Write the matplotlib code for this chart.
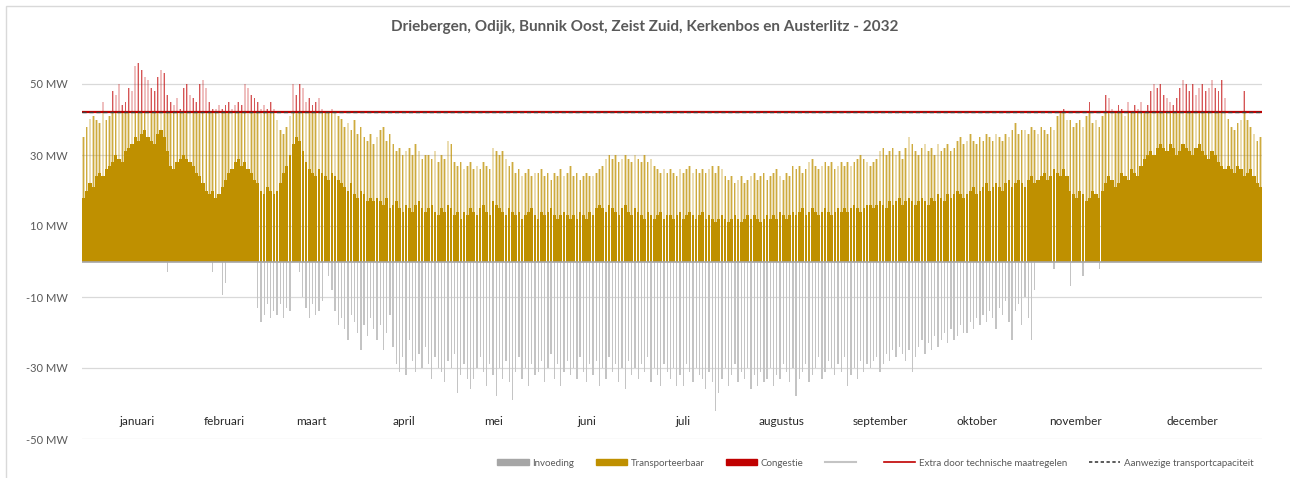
import numpy as np
import matplotlib
matplotlib.use("Agg")
import matplotlib.pyplot as plt
from matplotlib.patches import Patch, Rectangle
from matplotlib.lines import Line2D

plt.rcParams['font.family'] = ['Lato', 'DejaVu Sans']

# daily values (MW), year 2032 (leap year)
months = ['januari', 'februari', 'maart', 'april', 'mei', 'juni', 'juli',
          'augustus', 'september', 'oktober', 'november', 'december']
month_label_day = [17, 44, 71, 100, 127.5, 156.5, 186.5, 217, 247.5, 277.5, 308, 344.5]

# daily peak load
peak_jan = [35, 38, 40, 41, 40, 39, 45, 40, 41, 48, 47, 50, 44, 45, 49, 48, 55, 56, 54, 52, 51, 49, 48, 52, 54, 53, 47, 45, 44, 46, 43]
peak_feb = [49, 50, 47, 46, 45, 50, 51, 49, 45, 43, 43, 44, 43, 44, 45, 43, 44, 45, 44, 50, 49, 47, 46, 45, 43, 44, 43, 45, 43]
peak_mar = [40, 37, 36, 38, 41, 50, 47, 50, 49, 45, 46, 44, 45, 46, 43, 42, 42, 43, 42, 41, 40, 38, 39, 37, 40, 36, 38, 35, 34, 36, 33]
peak_apr = [35, 37, 38, 34, 36, 33, 31, 32, 30, 31, 32, 30, 33, 31, 29, 30, 30, 29, 31, 28, 30, 29, 34, 33, 28, 27, 28, 26, 27, 28]
peak_may = [26, 27, 26, 28, 27, 26, 32, 31, 30, 31, 29, 27, 28, 25, 26, 24, 25, 26, 24, 25, 25, 26, 24, 25, 23, 25, 24, 26, 24, 25, 27]
peak_jun = [24, 25, 23, 24, 25, 24, 24, 25, 26, 27, 29, 30, 29, 30, 28, 29, 30, 29, 28, 30, 29, 28, 30, 28, 29, 27, 26, 25, 26, 25]
peak_jul = [26, 25, 24, 26, 25, 26, 27, 25, 26, 25, 26, 25, 26, 27, 25, 27, 26, 24, 23, 24, 22, 23, 24, 22, 23, 24, 25, 23, 24, 25, 23]
peak_aug = [24, 25, 26, 24, 23, 25, 24, 27, 26, 27, 25, 26, 28, 29, 27, 26, 27, 28, 27, 28, 26, 27, 28, 27, 28, 27, 28, 29, 30, 29, 28]
peak_sep = [27, 28, 29, 31, 32, 30, 31, 32, 30, 31, 29, 32, 35, 33, 31, 30, 32, 33, 31, 32, 30, 33, 31, 32, 33, 31, 32, 34, 35, 33]
peak_oct = [34, 36, 34, 33, 35, 34, 36, 35, 34, 36, 35, 34, 36, 35, 37, 39, 36, 37, 37, 36, 38, 37, 36, 38, 37, 36, 38, 37, 41, 42, 43]
peak_nov = [40, 40, 38, 39, 40, 38, 41, 45, 39, 40, 38, 41, 47, 46, 43, 42, 44, 43, 41, 45, 42, 44, 43, 45, 42, 44, 48, 50, 49, 50]
peak_dec = [47, 46, 45, 44, 46, 49, 51, 50, 48, 50, 47, 49, 50, 48, 49, 51, 49, 48, 51, 46, 40, 38, 37, 39, 40, 48, 40, 38, 36, 34, 35]

# daily bulk (dark part of the fill)
base_jan = [18, 20, 22, 21, 24, 25, 24, 26, 27, 28, 30, 29, 28, 31, 32, 33, 35, 34, 36, 37, 35, 34, 33, 36, 37, 35, 31, 27, 26, 28, 29]
base_feb = [30, 29, 28, 27, 25, 24, 22, 20, 19, 20, 18, 19, 21, 23, 25, 26, 28, 29, 27, 28, 26, 25, 23, 22, 20, 19, 21, 20, 19]
base_mar = [20, 22, 25, 27, 30, 33, 35, 34, 31, 28, 26, 25, 24, 26, 25, 24, 23, 25, 24, 23, 22, 21, 20, 22, 19, 18, 20, 19, 17, 18, 17]
base_apr = [18, 17, 16, 18, 15, 16, 17, 15, 14, 16, 15, 14, 16, 17, 15, 14, 15, 16, 14, 13, 15, 14, 16, 15, 13, 14, 12, 14, 13, 15]
base_may = [14, 13, 15, 16, 14, 13, 17, 16, 15, 14, 13, 15, 14, 13, 14, 12, 13, 14, 15, 13, 12, 14, 13, 14, 15, 13, 12, 13, 14, 13, 12]
base_jun = [13, 12, 14, 13, 12, 14, 13, 15, 16, 15, 14, 16, 15, 14, 13, 15, 16, 14, 13, 15, 14, 13, 12, 14, 13, 12, 13, 14, 12, 13]
base_jul = [13, 12, 13, 14, 12, 13, 14, 13, 12, 13, 14, 12, 13, 12, 11, 12, 13, 12, 11, 12, 13, 12, 11, 12, 13, 12, 13, 12, 11, 12, 13]
base_aug = [12, 13, 12, 14, 13, 12, 13, 14, 13, 14, 15, 13, 14, 15, 14, 13, 14, 15, 14, 13, 14, 15, 14, 15, 14, 15, 16, 15, 14, 15, 16]
base_sep = [16, 15, 16, 17, 16, 15, 17, 16, 17, 18, 16, 17, 18, 17, 16, 17, 18, 17, 16, 18, 17, 19, 18, 17, 19, 18, 19, 20, 19, 18]
base_oct = [19, 20, 21, 19, 20, 21, 22, 20, 21, 22, 21, 20, 22, 23, 21, 22, 23, 22, 21, 23, 24, 22, 23, 24, 25, 23, 24, 26, 25, 24, 26]
base_nov = [24, 20, 19, 18, 20, 19, 17, 18, 20, 19, 18, 20, 22, 24, 23, 21, 22, 25, 24, 23, 26, 25, 24, 27, 29, 30, 31, 30, 32, 33]
base_dec = [32, 31, 33, 32, 30, 31, 33, 32, 31, 30, 32, 33, 31, 30, 29, 31, 30, 28, 27, 26, 27, 26, 25, 27, 26, 24, 25, 26, 24, 22, 21]

# daily deepest feed-in (invoeding)
neg_jan = [0, 0, 0, 0, 0, 0, 0, 0, 0, 0, 0, 0, 0, 0, 0, 0, 0, 0, 0, 0, 0, 0, 0, 0, 0, 0, -3, 0, 0, 0, 0]
neg_feb = [0, 0, 0, 0, 0, 0, 0, 0, 0, -3, 0, 0, -9.5, -6, 0, 0, 0, 0, 0, 0, 0, 0, 0, -13, -17, -15, -12, -16, -14]
neg_mar = [-15, -12, -16, -13, -14, 0, 0, -3, -10, -13, -16, -12, -15, -14, -11, 0, -4, -8, -14, -18, -16, -19, -22, -15, -17, -20, -25, -18, -21, -16, -19]
neg_apr = [-22, -18, -25, -20, -15, -24, -29, -31, -27, -32, -22, -28, -31, -26, -30, -24, -29, -33, -27, -30, -31, -34, -28, -30, -26, -37, -32, -29, -33, -36]
neg_may = [-33, -30, -27, -31, -35, -29, -32, -38, -30, -33, -28, -34, -39, -31, -27, -33, -30, -35, -29, -32, -31, -28, -34, -30, -26, -33, -29, -35, -31, -28, -32]
neg_jun = [-30, -33, -27, -31, -34, -29, -32, -28, -35, -30, -33, -27, -31, -29, -34, -30, -36, -28, -32, -30, -33, -29, -31, -27, -34, -30, -32, -35, -29, -31]
neg_jul = [-33, -30, -35, -32, -35, -29, -31, -34, -30, -32, -33, -36, -31, -34, -42, -37, -33, -30, -35, -32, -29, -34, -31, -33, -30, -36, -32, -35, -31, -34, -33]
neg_aug = [-30, -35, -32, -33, -29, -31, -34, -30, -38, -33, -31, -29, -34, -32, -30, -27, -33, -31, -28, -30, -32, -29, -31, -27, -35, -32, -30, -33, -28, -31, -29]
neg_sep = [-30, -28, -27, -31, -29, -26, -28, -25, -27, -24, -26, -28, -25, -31, -27, -24, -22, -26, -23, -25, -21, -24, -22, -20, -23, -19, -22, -21, -18, -20]
neg_oct = [-20, -17, -19, -16, -18, -15, -17, -14, -16, -19, -13, -15, -11, -17, -22, -14, -12, -18, -10, -16, -22, -8, 0, 0, 0, 0, 0, -2, 0, 0, 0]
neg_nov = [0, -7, 0, 0, 0, -4, 0, 0, 0, 0, -2, 0, 0, 0, 0, 0, 0, 0, 0, 0, 0, 0, 0, 0, 0, 0, 0, 0, 0, 0]
neg_dec = [0] * 31

capacity = 42  # aanwezige transportcapaciteit (MW)

peak = np.array(peak_jan + peak_feb + peak_mar + peak_apr + peak_may + peak_jun +
                peak_jul + peak_aug + peak_sep + peak_oct + peak_nov + peak_dec, dtype=float)
base = np.array(base_jan + base_feb + base_mar + base_apr + base_may + base_jun +
                base_jul + base_aug + base_sep + base_oct + base_nov + base_dec, dtype=float)
neg = np.array(neg_jan + neg_feb + neg_mar + neg_apr + neg_may + neg_jun +
               neg_jul + neg_aug + neg_sep + neg_oct + neg_nov + neg_dec, dtype=float)
days = np.arange(len(peak)) + 0.5

GOLD = '#BF9000'
RED = '#C00000'
GREY = '#C4C4C4'
TXT = '#595959'

fig = plt.figure(figsize=(12.9, 4.78), dpi=100)
ax = fig.add_axes([82 / 1290, 1 - 439 / 478, 1180 / 1290, (439 - 48.5) / 478])

# gridlines
for y in [-50, -30, -10, 10, 30, 50]:
    ax.axhline(y, color='#D9D9D9', lw=0.9, zorder=0)

# feed-in
ax.bar(days, neg, width=0.4, color=GREY, linewidth=0, zorder=2)

# transportable load: solid bulk + lighter daily spikes
bulk_w = np.where(neg < 0, 0.8, 1.0)
ax.bar(days, base, width=bulk_w, color=GOLD, linewidth=0, zorder=3)
top = np.minimum(peak, capacity)
ax.bar(days, top - base, bottom=base, width=0.8, color=GOLD, alpha=0.3, linewidth=0, zorder=3)
ax.bar(days, top - base, bottom=base, width=0.25, color=GOLD, alpha=0.65, linewidth=0, zorder=3)

# congestion above capacity
over = peak > capacity
ax.bar(days[over], peak[over] - capacity, bottom=capacity, width=0.6, color=RED,
       alpha=0.25, linewidth=0, zorder=3)
ax.bar(days[over], peak[over] - capacity, bottom=capacity, width=0.18, color=RED,
       alpha=0.55, linewidth=0, zorder=3)

ax.axhline(0, color='#A6A6A6', lw=1.2, zorder=4)
ax.axhline(capacity, color=RED, lw=1.6, zorder=5)
ax.axhline(capacity, color='#404040', lw=1.0, ls=(0, (3, 2)), zorder=6)

ax.set_xlim(0, len(peak))
ax.set_ylim(-50, 60)
ax.set_yticks([-50, -30, -10, 10, 30, 50])
ax.set_yticklabels([f'{v} MW' for v in [-50, -30, -10, 10, 30, 50]], color=TXT, fontsize=8)
ax.tick_params(axis='y', length=0, pad=10)
ax.set_xticks([])
for s in ax.spines.values():
    s.set_visible(False)

for d, m in zip(month_label_day, months):
    ax.text(d, -45.2, m, ha='center', va='center', fontsize=8.5, color='#262626')

fig.suptitle('Driebergen, Odijk, Bunnik Oost, Zeist Zuid, Kerkenbos en Austerlitz - 2032',
             x=0.5, y=1 - 27 / 478, va='center', fontsize=11, fontweight='bold', color=TXT)

handles = [Patch(color='#A6A6A6'), Patch(color=GOLD), Patch(color=RED),
           Line2D([], [], color=GREY, lw=1.5), Line2D([], [], color=RED, lw=1.2),
           Line2D([], [], color='#404040', lw=1.2, ls=(0, (2, 1.5)))]
labels = ['Invoeding', 'Transporteerbaar', 'Congestie', ' ',
          'Extra door technische maatregelen', 'Aanwezige transportcapaciteit']
leg = fig.legend(handles, labels, loc='center right', bbox_to_anchor=(1262 / 1290, 1 - 463 / 478),
                 ncol=6, frameon=False, fontsize=7, handlelength=3.2, handleheight=0.6,
                 columnspacing=2.2, handletextpad=0.4)
for t in leg.get_texts():
    t.set_color(TXT)

fig.patches.append(Rectangle((6 / 1290, -0.02), 1.0, 1 - 6 / 478 + 0.02, transform=fig.transFigure,
                             fill=False, edgecolor='#D9D9D9', lw=1.0))

fig.savefig('out.png', dpi=100)
